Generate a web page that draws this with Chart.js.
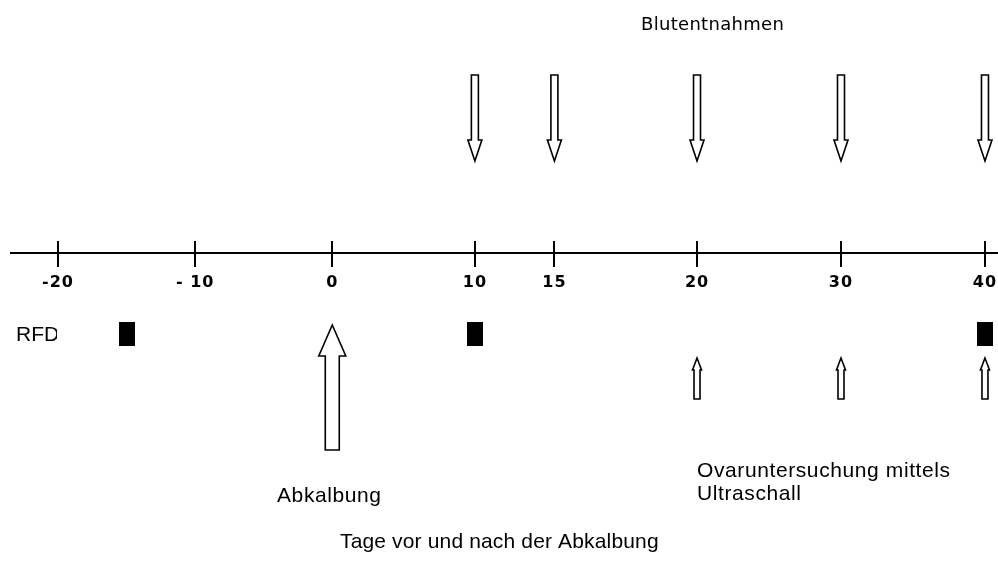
<!DOCTYPE html>
<html>
<head>
<meta charset="utf-8">
<script src="https://cdn.jsdelivr.net/npm/chart.js@4/dist/chart.umd.min.js"></script>
<style>
  html, body { margin: 0; padding: 0; background: #fff; }
  canvas { display: block; }
</style>
</head>
<body>
<canvas id="c" width="998" height="565"></canvas>
<script>
// ---- data ----
const tickDays = [-20, -10, 0, 10, 15, 20, 30, 40];
const tickLabels = ['-20', '- 10', '0', '10', '15', '20', '30', '40'];
const bloodSamplingDays = [10, 15, 20, 30, 40];
const calvingDays = [0];
const rfdDays = [-15, 10, 40];
const ultrasoundDays = [20, 30, 40];

// ---- layout (the original axis is drawn with uneven spacing) ----
const tickAxisPos = [0, 1, 2, 3.04, 3.62, 4.66, 5.71, 6.76];
const AXIS_Y = 253;
const ROW = { blood: 75, calving: 325, rfd: 322, ultrasound: 358 };

function dayToAxis(d) {
  for (let i = 0; i < tickDays.length - 1; i++) {
    const a = tickDays[i], b = tickDays[i + 1];
    if (d >= a && d <= b) {
      return tickAxisPos[i] + (d - a) / (b - a) * (tickAxisPos[i + 1] - tickAxisPos[i]);
    }
  }
  return d < tickDays[0] ? tickAxisPos[0] : tickAxisPos[tickAxisPos.length - 1];
}

function pts(days, row) { return days.map(d => ({ x: dayToAxis(d), y: row })); }

function drawArrow(ctx, x, tipY, headBaseY, endY, headHalf, shaftHalf) {
  ctx.beginPath();
  ctx.moveTo(x, tipY);
  ctx.lineTo(x + headHalf, headBaseY);
  ctx.lineTo(x + shaftHalf, headBaseY);
  ctx.lineTo(x + shaftHalf, endY);
  ctx.lineTo(x - shaftHalf, endY);
  ctx.lineTo(x - shaftHalf, headBaseY);
  ctx.lineTo(x - headHalf, headBaseY);
  ctx.closePath();
  ctx.fillStyle = '#fff';
  ctx.fill();
  ctx.lineWidth = 1.6;
  ctx.strokeStyle = '#000';
  ctx.stroke();
}

const timelinePlugin = {
  id: 'timeline',
  beforeDraw(chart) {
    chart.ctx.letterSpacing = '1px';
  },
  afterDraw(chart) {
    const ctx = chart.ctx;
    const xs = chart.scales.x, ys = chart.scales.y;
    ctx.save();
    ctx.letterSpacing = '0px';
    // crossing tick marks
    ctx.strokeStyle = '#000';
    ctx.lineWidth = 2;
    const ay = ys.getPixelForValue(AXIS_Y);
    tickAxisPos.forEach(v => {
      const x = Math.round(xs.getPixelForValue(v));
      ctx.beginPath();
      ctx.moveTo(x, ay - 12);
      ctx.lineTo(x, ay + 14);
      ctx.stroke();
    });

    chart.data.datasets.forEach((ds, di) => {
      const meta = chart.getDatasetMeta(di);
      meta.data.forEach(p => {
        const x = p.x, y = p.y;
        if (ds.mark === 'down') {
          drawArrow(ctx, x, y + 86, y + 65, y, 7, 3.5);
        } else if (ds.mark === 'bigUp') {
          drawArrow(ctx, x, y, y + 31, y + 125, 13.5, 7);
        } else if (ds.mark === 'smallUp') {
          drawArrow(ctx, x, y, y + 12, y + 41, 4.5, 3);
        } else if (ds.mark === 'rect') {
          ctx.fillStyle = '#000';
          ctx.fillRect(Math.round(x - 8), y, 16, 24);
        }
      });
    });

    // texts
    ctx.fillStyle = '#000';
    ctx.textBaseline = 'alphabetic';
    ctx.textAlign = 'left';
    ctx.font = '18px "DejaVu Sans"';
    ctx.letterSpacing = '0.3px';
    ctx.fillText('Blutentnahmen', 641, 30);

    ctx.font = '21px "Liberation Sans"';
    ctx.letterSpacing = '0.6px';
    ctx.fillText('Abkalbung', 277, 502);
    ctx.fillText('Ovaruntersuchung mittels', 697, 477);
    ctx.fillText('Ultraschall', 697, 500);

    ctx.save();
    ctx.beginPath();
    ctx.rect(0, 300, 57, 60);
    ctx.clip();
    ctx.font = '21px "Liberation Sans"';
    ctx.letterSpacing = '0px';
    ctx.fillText('RFD', 16, 341);
    ctx.restore();

    ctx.font = '21px "Liberation Sans"';
    ctx.letterSpacing = '0.15px';
    ctx.fillText('Tage vor und nach der Abkalbung', 340, 548);
    ctx.restore();
  }
};

new Chart(document.getElementById('c'), {
  type: 'scatter',
  data: {
    datasets: [
      { label: 'Blutentnahmen', mark: 'down', data: pts(bloodSamplingDays, ROW.blood) },
      { label: 'Abkalbung', mark: 'bigUp', data: pts(calvingDays, ROW.calving) },
      { label: 'RFD', mark: 'rect', data: pts(rfdDays, ROW.rfd) },
      { label: 'Ovaruntersuchung mittels Ultraschall', mark: 'smallUp', data: pts(ultrasoundDays, ROW.ultrasound) }
    ]
  },
  options: {
    responsive: false,
    animation: false,
    devicePixelRatio: 1,
    layout: { autoPadding: false, padding: { left: 11, right: 0, top: 0, bottom: 0 } },
    elements: { point: { radius: 0, hoverRadius: 0 } },
    plugins: { legend: { display: false }, tooltip: { enabled: false }, title: { display: false } },
    events: [],
    scales: {
      y: { type: 'linear', display: false, min: 0, max: 565, reverse: true },
      x: {
        type: 'linear',
        min: -0.343,
        max: 6.855,
        position: { y: AXIS_Y },
        afterBuildTicks: s => { s.ticks = tickAxisPos.map(v => ({ value: v })); },
        afterFit: s => { s.paddingLeft = 0; s.paddingRight = 0; },
        grid: { display: false, drawTicks: false },
        border: { display: true, color: '#000', width: 2 },
        ticks: {
          autoSkip: false,
          maxRotation: 0,
          padding: 20,
          color: '#000',
          font: { family: 'DejaVu Sans', size: 16, weight: 'bold' },
          callback: (v, i) => tickLabels[i]
        }
      }
    }
  },
  plugins: [timelinePlugin]
});
</script>
</body>
</html>
